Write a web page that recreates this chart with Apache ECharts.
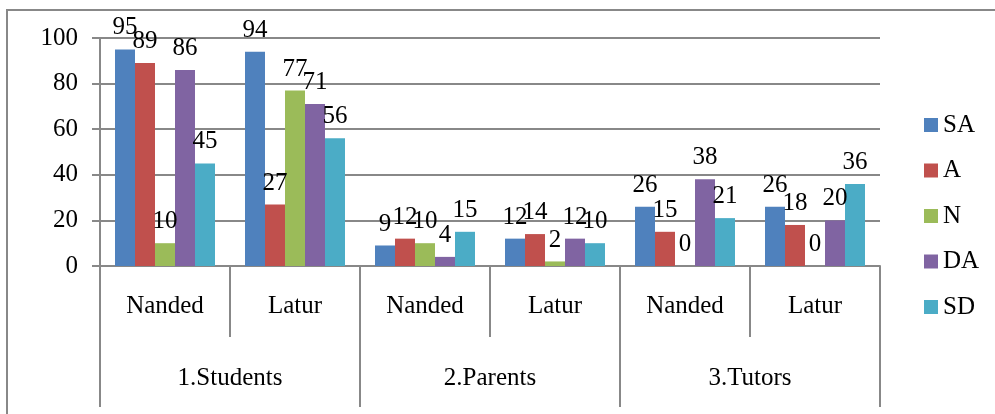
<!DOCTYPE html>
<html>
<head>
<meta charset="utf-8">
<script src="https://cdn.jsdelivr.net/npm/echarts@6/dist/echarts.min.js"></script>
<style>
  html, body { margin: 0; padding: 0; background: #fff; }
  #chart { width: 995px; height: 414px; }
</style>
</head>
<body>
<div id="chart"></div>
<script>
const places = ["Nanded", "Latur", "Nanded", "Latur", "Nanded", "Latur"];
const groups = ["1.Students", "2.Parents", "3.Tutors"];
const seriesNames = ["SA", "A", "N", "DA", "SD"];
const colors = ["#4F81BD", "#C0504D", "#9BBB59", "#8064A2", "#4BACC6"];
const yTicks = [0, 20, 40, 60, 80, 100];

const saValues = [95, 94, 9, 12, 26, 26];
const aValues = [89, 27, 12, 14, 15, 18];
const nValues = [10, 77, 10, 2, 0, 0];
const daValues = [86, 71, 4, 12, 38, 20];
const sdValues = [45, 56, 15, 10, 21, 36];

const allValues = [saValues, aValues, nValues, daValues, sdValues];
const font = "'Liberation Serif', 'Times New Roman', 'DejaVu Serif', serif";
const gray = "#888888";

const chart = echarts.init(document.getElementById("chart"));
chart.setOption({
  animation: false,
  textStyle: { fontFamily: font, color: "#000" },
  graphic: [{
    type: "rect",
    shape: { x: 7, y: 10, width: 1000, height: 420 },
    style: { fill: "none", stroke: gray, lineWidth: 2 }
  }],
  grid: { left: 100, right: 115, top: 38, bottom: 148 },
  legend: {
    orient: "vertical",
    left: 919,
    top: 107,
    itemWidth: 14,
    itemHeight: 14,
    itemGap: 19.5,
    icon: "rect",
    data: seriesNames,
    textStyle: { fontFamily: font, fontSize: 25, color: "#000", lineHeight: 26 }
  },
  xAxis: [
    {
      type: "category",
      data: places,
      axisLine: { show: true, lineStyle: { color: gray, width: 2 } },
      axisTick: { show: true, length: 71, interval: 0, lineStyle: { color: gray, width: 2 } },
      axisLabel: { fontFamily: font, fontSize: 25, color: "#000", margin: 28, interval: 0 }
    },
    {
      type: "category",
      data: groups,
      position: "bottom",
      axisLine: { show: false },
      axisTick: { show: true, length: 141, interval: 0, lineStyle: { color: gray, width: 2 } },
      axisLabel: { fontFamily: font, fontSize: 25, color: "#000", margin: 100, interval: 0 }
    }
  ],
  yAxis: {
    type: "value",
    min: yTicks[0],
    max: yTicks[yTicks.length - 1],
    interval: 20,
    axisLine: { show: true, lineStyle: { color: gray, width: 2 } },
    axisTick: { show: true, length: 8, lineStyle: { color: gray, width: 2 } },
    splitLine: { lineStyle: { color: gray, width: 2 } },
    axisLabel: { fontFamily: font, fontSize: 25, color: "#000", margin: 22 }
  },
  series: seriesNames.map((name, i) => ({
    name: name,
    type: "bar",
    xAxisIndex: 0,
    data: allValues[i],
    barWidth: 20,
    barGap: "0%",
    itemStyle: { color: colors[i] },
    label: {
      show: true,
      position: "top",
      distance: 9,
      fontFamily: font,
      fontSize: 25,
      color: "#000"
    }
  }))
});
</script>
</body>
</html>
